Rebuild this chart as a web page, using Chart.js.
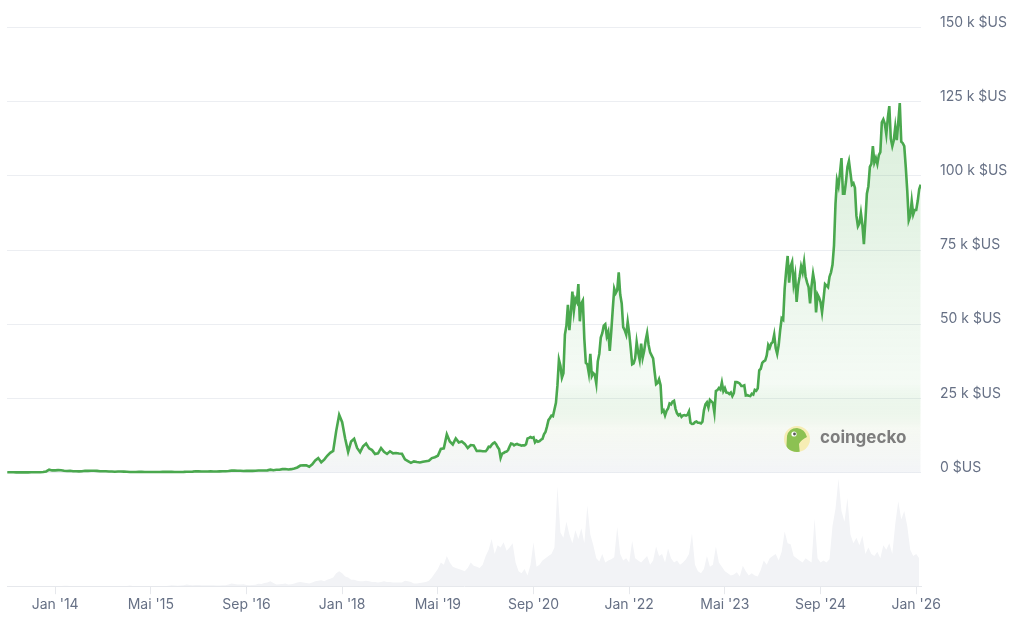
<!DOCTYPE html>
<html>
<head>
<meta charset="utf-8">
<script src="https://cdn.jsdelivr.net/npm/chart.js@4/dist/chart.umd.min.js"></script>
<style>
  html, body { margin: 0; padding: 0; background: #fff; }
  #wrap { width: 1024px; height: 633px; position: relative; }
</style>
</head>
<body>
<div id="wrap"><canvas id="btcChart"></canvas></div>
<script>
// x axis = months since Jan 2013
const xTickMonths = [12, 28, 44, 60, 76, 92, 108, 124, 140, 156];
const xTickLabels = ["Jan '14", "Mai '15", "Sep '16", "Jan '18", "Mai '19", "Sep '20", "Jan '22", "Mai '23", "Sep '24", "Jan '26"];
const yTickValues = [0, 25000, 50000, 75000, 100000, 125000, 150000];
const yTickLabels = ['0 $US', '25 k $US', '50 k $US', '75 k $US', '100 k $US', '125 k $US', '150 k $US'];

// price in $US, twice a month up to 2019, weekly from 2020
const p2013 = [117, 114, 122, 100, 88, 98, 106, 100, 130, 135, 125, 150, 205, 420, 1000, 760]; // from May
const p2014 = [770, 850, 820, 650, 560, 630, 460, 490, 440, 450, 650, 590, 640, 620, 590, 500, 480, 475, 385, 395, 325, 400, 380, 350];
const p2015 = [315, 210, 225, 235, 260, 285, 245, 220, 235, 235, 225, 235, 260, 285, 280, 265, 230, 230, 237, 255, 325, 330, 360, 455];
const p2016 = [430, 380, 370, 400, 435, 415, 415, 425, 450, 455, 535, 690, 675, 660, 625, 570, 610, 610, 615, 640, 730, 710, 750, 780];
const p2017 = [1000, 820, 990, 1000, 1190, 1250, 1080, 1180, 1420, 1750, 2400, 2450, 2500, 2000, 2800, 4100, 4900, 3500, 4400, 5700, 6700, 7300, 14000, 19500];
const p2018 = [17000, 11500, 7000, 10500, 11400, 8300, 6900, 8900, 9800, 8200, 7600, 6300, 6500, 8300, 7000, 6300, 7200, 6500, 6600, 6450, 6350, 4500, 3900, 3300];
const p2019 = [3800, 3600, 3450, 3700, 3850, 4000, 4900, 5200, 5700, 8000, 8200, 12900, 10500, 9500, 11500, 10200, 10500, 9700, 8300, 9300, 9200, 7300, 7400, 7200];
const p2020 = [7200, 7800, 8700, 8600, 9400, 9900, 10200, 9600, 8600, 7900, 5000, 6400, 6600, 7000, 7100, 7600,
  8800, 9800, 9700, 9200, 9500, 9700, 9400, 9300, 9100, 9200, 9200, 9600, 11500, 11700, 12000, 11700,
  11900, 10200, 10800, 10400, 10600, 11100, 11400, 12900, 13700, 15500, 17700, 18400, 19200, 19000, 21300, 23500];
const p2021 = [29400, 38000, 36000, 32000, 33500, 46500, 49500, 56500, 48000, 54000, 61000, 54500, 58500, 57500, 63500, 51000,
  57000, 58000, 45000, 37000, 36500, 33500, 40000, 32500, 33500, 33000, 30000, 37500, 40000, 45500, 47000, 49500,
  50000, 46000, 47500, 41000, 47500, 55000, 62000, 60500, 61500, 67500, 60000, 57000, 49000, 48000, 46500, 50800];
const p2022 = [47000, 42000, 36500, 36800, 38500, 44000, 40500, 38000, 43500, 38700, 41000, 44500, 47000, 43000, 40500, 39500,
  38500, 34000, 29800, 30200, 31500, 29500, 20500, 21000, 19300, 20800, 21600, 23300, 23000, 23900, 24200, 21500,
  20000, 19300, 19700, 18800, 19300, 19400, 19200, 19500, 20600, 16800, 16400, 16500, 17000, 17200, 16800, 16800];
const p2023 = [16600, 17200, 21000, 23000, 23700, 22000, 24500, 24000, 23500, 20200, 27500, 27800, 28500, 28000, 30400, 27500,
  28500, 27000, 26900, 26500, 27000, 25800, 26800, 30500, 30500, 30300, 30000, 29200, 29200, 29400, 26000, 26100,
  25900, 25800, 26600, 26300, 27900, 27600, 28400, 34500, 35000, 37000, 37500, 37800, 39500, 43000, 42000, 43500];
const p2024 = [44000, 46500, 42000, 40000, 43000, 48000, 52000, 51500, 62000, 68000, 73000, 64000, 69500, 71000, 63500, 66500,
  57500, 63000, 66000, 69500, 67500, 71000, 66000, 64000, 62500, 57000, 63000, 67000, 64000, 54000, 60000, 59000,
  57500, 54000, 58500, 63500, 63000, 62500, 66000, 67500, 70000, 76500, 90500, 98500, 96500, 101000, 106000, 94000];
const p2025 = [94000, 98000, 103000, 105000, 101000, 97000, 97500, 96000, 86500, 83000, 84000, 87500, 83500, 77000, 85000, 94000,
  96500, 103000, 104000, 110000, 104500, 106000, 104000, 107000, 108000, 118000, 119000, 117500, 114000, 119500, 123500, 112500,
  110000, 112000, 116500, 112000, 118000, 124500, 111500, 111000, 110000, 103000, 95000, 85000, 86500, 91500, 87000, 88500];
const p2026 = [88500, 91500, 95500, 97000];

// volume (bn $US), twice a month
const v2013 = [0.1, 0.1, 0.1, 0.1, 0.1, 0.1, 0.1, 0.1, 0.1, 0.1, 0.1, 0.1, 0.1, 0.2, 0.3, 0.2];
const v2014 = [0.2, 0.3, 0.3, 0.5, 0.4, 0.3, 0.2, 0.2, 0.2, 0.2, 0.3, 0.2, 0.2, 0.2, 0.2, 0.2, 0.2, 0.2, 0.3, 0.2, 0.2, 0.2, 0.2, 0.2];
const v2015 = [0.3, 0.6, 0.3, 0.2, 0.2, 0.2, 0.2, 0.2, 0.2, 0.2, 0.2, 0.2, 0.3, 0.3, 0.4, 0.8, 0.6, 0.5, 0.6, 0.8, 1.5, 1.2, 1.0, 1.2];
const v2016 = [1.2, 1.0, 0.8, 0.9, 0.9, 0.8, 0.7, 0.7, 0.8, 0.9, 1.5, 2.5, 2.0, 1.5, 1.5, 1.8, 1.2, 1.0, 1.2, 1.4, 2.2, 2.0, 3.0, 3.5];
const v2017 = [4.5, 3.0, 1.5, 1.8, 2.0, 2.5, 1.5, 1.8, 2.5, 3.5, 4.0, 3.5, 3.0, 2.5, 3.5, 4.5, 5.0, 5.5, 4.5, 6.0, 7.0, 8.0, 12, 14];
const v2018 = [12, 9, 8, 6, 6, 5, 4.5, 4.5, 5, 4.5, 4, 4, 3.5, 4, 4.5, 4, 4, 3.5, 3.5, 3.5, 3.5, 5, 4.5, 4];
const v2019 = [2.5, 2.5, 3, 3.5, 4, 5, 8, 12, 16, 22, 20, 28, 22, 18, 17, 16, 15, 14, 17, 22, 19, 18, 17, 20];
const v2020 = [28, 34, 44, 30, 38, 36, 41, 33, 36, 40, 22, 14, 12, 16, 10, 20, 41, 18, 20, 24, 26, 28, 30, 36];
const v2021 = [93, 50, 45, 60, 48, 40, 52, 44, 54, 40, 75, 48, 38, 26, 23, 30, 22, 24, 25, 27, 55, 30, 24, 26];
const v2022 = [22, 42, 26, 24, 22, 25, 28, 20, 24, 37, 28, 30, 22, 35, 26, 22, 24, 20, 22, 25, 30, 49, 20, 14];
const v2023 = [12, 16, 28, 18, 20, 37, 22, 18, 14, 12, 10, 11, 13, 9, 19, 14, 10, 12, 10, 9, 15, 24, 20, 26];
const v2024 = [28, 30, 24, 32, 51, 40, 39, 28, 26, 24, 22, 26, 24, 22, 63, 26, 22, 24, 22, 25, 56, 72, 100, 70];
const v2025 = [60, 82, 48, 40, 45, 38, 47, 30, 36, 30, 28, 32, 26, 38, 34, 40, 30, 58, 79, 62, 70, 56, 34, 28];
const v2026 = [30, 26];

function toPoints(startMonth, step, values) {
  return values.map((v, i) => ({ x: startMonth + i * step, y: v }));
}

const priceData = [].concat(
  toPoints(4, 0.5, p2013), toPoints(12, 0.5, p2014), toPoints(24, 0.5, p2015), toPoints(36, 0.5, p2016),
  toPoints(48, 0.5, p2017), toPoints(60, 0.5, p2018), toPoints(72, 0.5, p2019),
  toPoints(84, 0.25, p2020), toPoints(96, 0.25, p2021), toPoints(108, 0.25, p2022), toPoints(120, 0.25, p2023),
  toPoints(132, 0.25, p2024), toPoints(144, 0.25, p2025), toPoints(156, 0.25, p2026)
);
const volumeData = [].concat(
  toPoints(4, 0.5, v2013), toPoints(12, 0.5, v2014), toPoints(24, 0.5, v2015), toPoints(36, 0.5, v2016),
  toPoints(48, 0.5, v2017), toPoints(60, 0.5, v2018), toPoints(72, 0.5, v2019), toPoints(84, 0.5, v2020),
  toPoints(96, 0.5, v2021), toPoints(108, 0.5, v2022), toPoints(120, 0.5, v2023), toPoints(132, 0.5, v2024),
  toPoints(144, 0.5, v2025), toPoints(156, 0.5, v2026)
);

const textColor = '#667085';
const gridColor = '#eceef2';

function priceFill(context) {
  const chart = context.chart;
  const area = chart.chartArea;
  if (!area) return 'rgba(76,175,80,0.1)';
  const zero = chart.scales.y.getPixelForValue(0);
  const g = chart.ctx.createLinearGradient(0, area.top, 0, zero);
  g.addColorStop(0, 'rgba(76,175,80,0.22)');
  g.addColorStop(0.4, 'rgba(76,175,80,0.16)');
  g.addColorStop(0.6, 'rgba(76,175,80,0.10)');
  g.addColorStop(0.8, 'rgba(76,175,80,0.06)');
  g.addColorStop(0.9, 'rgba(225,235,215,0.30)');
  g.addColorStop(1, 'rgba(225,229,236,0.40)');
  return g;
}

// coingecko watermark
const watermark = {
  id: 'watermark',
  afterDatasetsDraw(chart) {
    const ctx = chart.ctx;
    ctx.save();
    ctx.fillStyle = '#f6edb4';
    ctx.beginPath();
    ctx.arc(797, 439, 13, 0, Math.PI * 2);
    ctx.fill();
    ctx.save();
    ctx.beginPath();
    ctx.arc(797, 439, 13, 0, Math.PI * 2);
    ctx.clip();
    ctx.fillStyle = '#8cc152';
    ctx.beginPath();
    ctx.moveTo(786, 455);
    ctx.lineTo(787, 436);
    ctx.quadraticCurveTo(789, 428, 797, 428);
    ctx.quadraticCurveTo(805, 429, 807, 437);
    ctx.quadraticCurveTo(801, 440, 799, 444);
    ctx.lineTo(800, 455);
    ctx.closePath();
    ctx.fill();
    ctx.restore();
    ctx.fillStyle = '#ffffff';
    ctx.beginPath();
    ctx.arc(794, 434, 2.6, 0, Math.PI * 2);
    ctx.fill();
    ctx.fillStyle = '#555';
    ctx.beginPath();
    ctx.arc(794.5, 434, 1.4, 0, Math.PI * 2);
    ctx.fill();
    ctx.fillStyle = '#7d7d7d';
    ctx.font = 'bold 17px Inter, "Noto Sans", sans-serif';
    ctx.textBaseline = 'middle';
    ctx.fillText('coingecko', 820, 438);
    ctx.restore();
  }
};

new Chart(document.getElementById('btcChart'), {
  type: 'line',
  data: {
    datasets: [{
      label: 'Prix',
      data: priceData,
      yAxisID: 'y',
      borderColor: '#4aa84e',
      borderWidth: 2.6,
      pointRadius: 0,
      tension: 0,
      fill: 'origin',
      backgroundColor: priceFill,
      order: 0
    }, {
      label: 'Volume',
      data: volumeData,
      yAxisID: 'y2',
      borderWidth: 0,
      borderColor: 'rgba(0,0,0,0)',
      backgroundColor: '#f2f3f6',
      pointRadius: 0,
      tension: 0,
      fill: 'origin',
      order: 1
    }]
  },
  options: {
    responsive: true,
    maintainAspectRatio: false,
    animation: false,
    layout: { padding: { top: 27, left: 7, right: 0, bottom: 18 } },
    plugins: {
      legend: { display: false },
      tooltip: { enabled: false }
    },
    scales: {
      x: {
        type: 'linear',
        min: 3.95,
        max: 156.8,
        afterBuildTicks: (axis) => { axis.ticks = xTickMonths.map(v => ({ value: v })); },
        ticks: {
          color: textColor,
          font: { family: 'Inter', size: 14 },
          padding: 2,
          maxRotation: 0,
          autoSkip: false,
          callback: (v) => xTickLabels[xTickMonths.indexOf(v)]
        },
        grid: { drawOnChartArea: false, drawTicks: true, tickLength: 8, color: '#e6e8ec' },
        border: { color: '#e6e8ec' }
      },
      y: {
        position: 'right',
        min: -38250,
        max: 150000,
        afterBuildTicks: (axis) => { axis.ticks = yTickValues.map(v => ({ value: v })); },
        afterFit: (axis) => { axis.width = 103; },
        ticks: {
          color: textColor,
          font: { family: 'Inter', size: 14 },
          padding: 19,
          labelOffset: -5,
          callback: (v) => yTickLabels[yTickValues.indexOf(v)]
        },
        grid: { drawTicks: false, color: gridColor },
        border: { display: false }
      },
      y2: {
        display: false,
        position: 'left',
        min: 0,
        max: 520
      }
    }
  },
  plugins: [watermark]
});
</script>
</body>
</html>
